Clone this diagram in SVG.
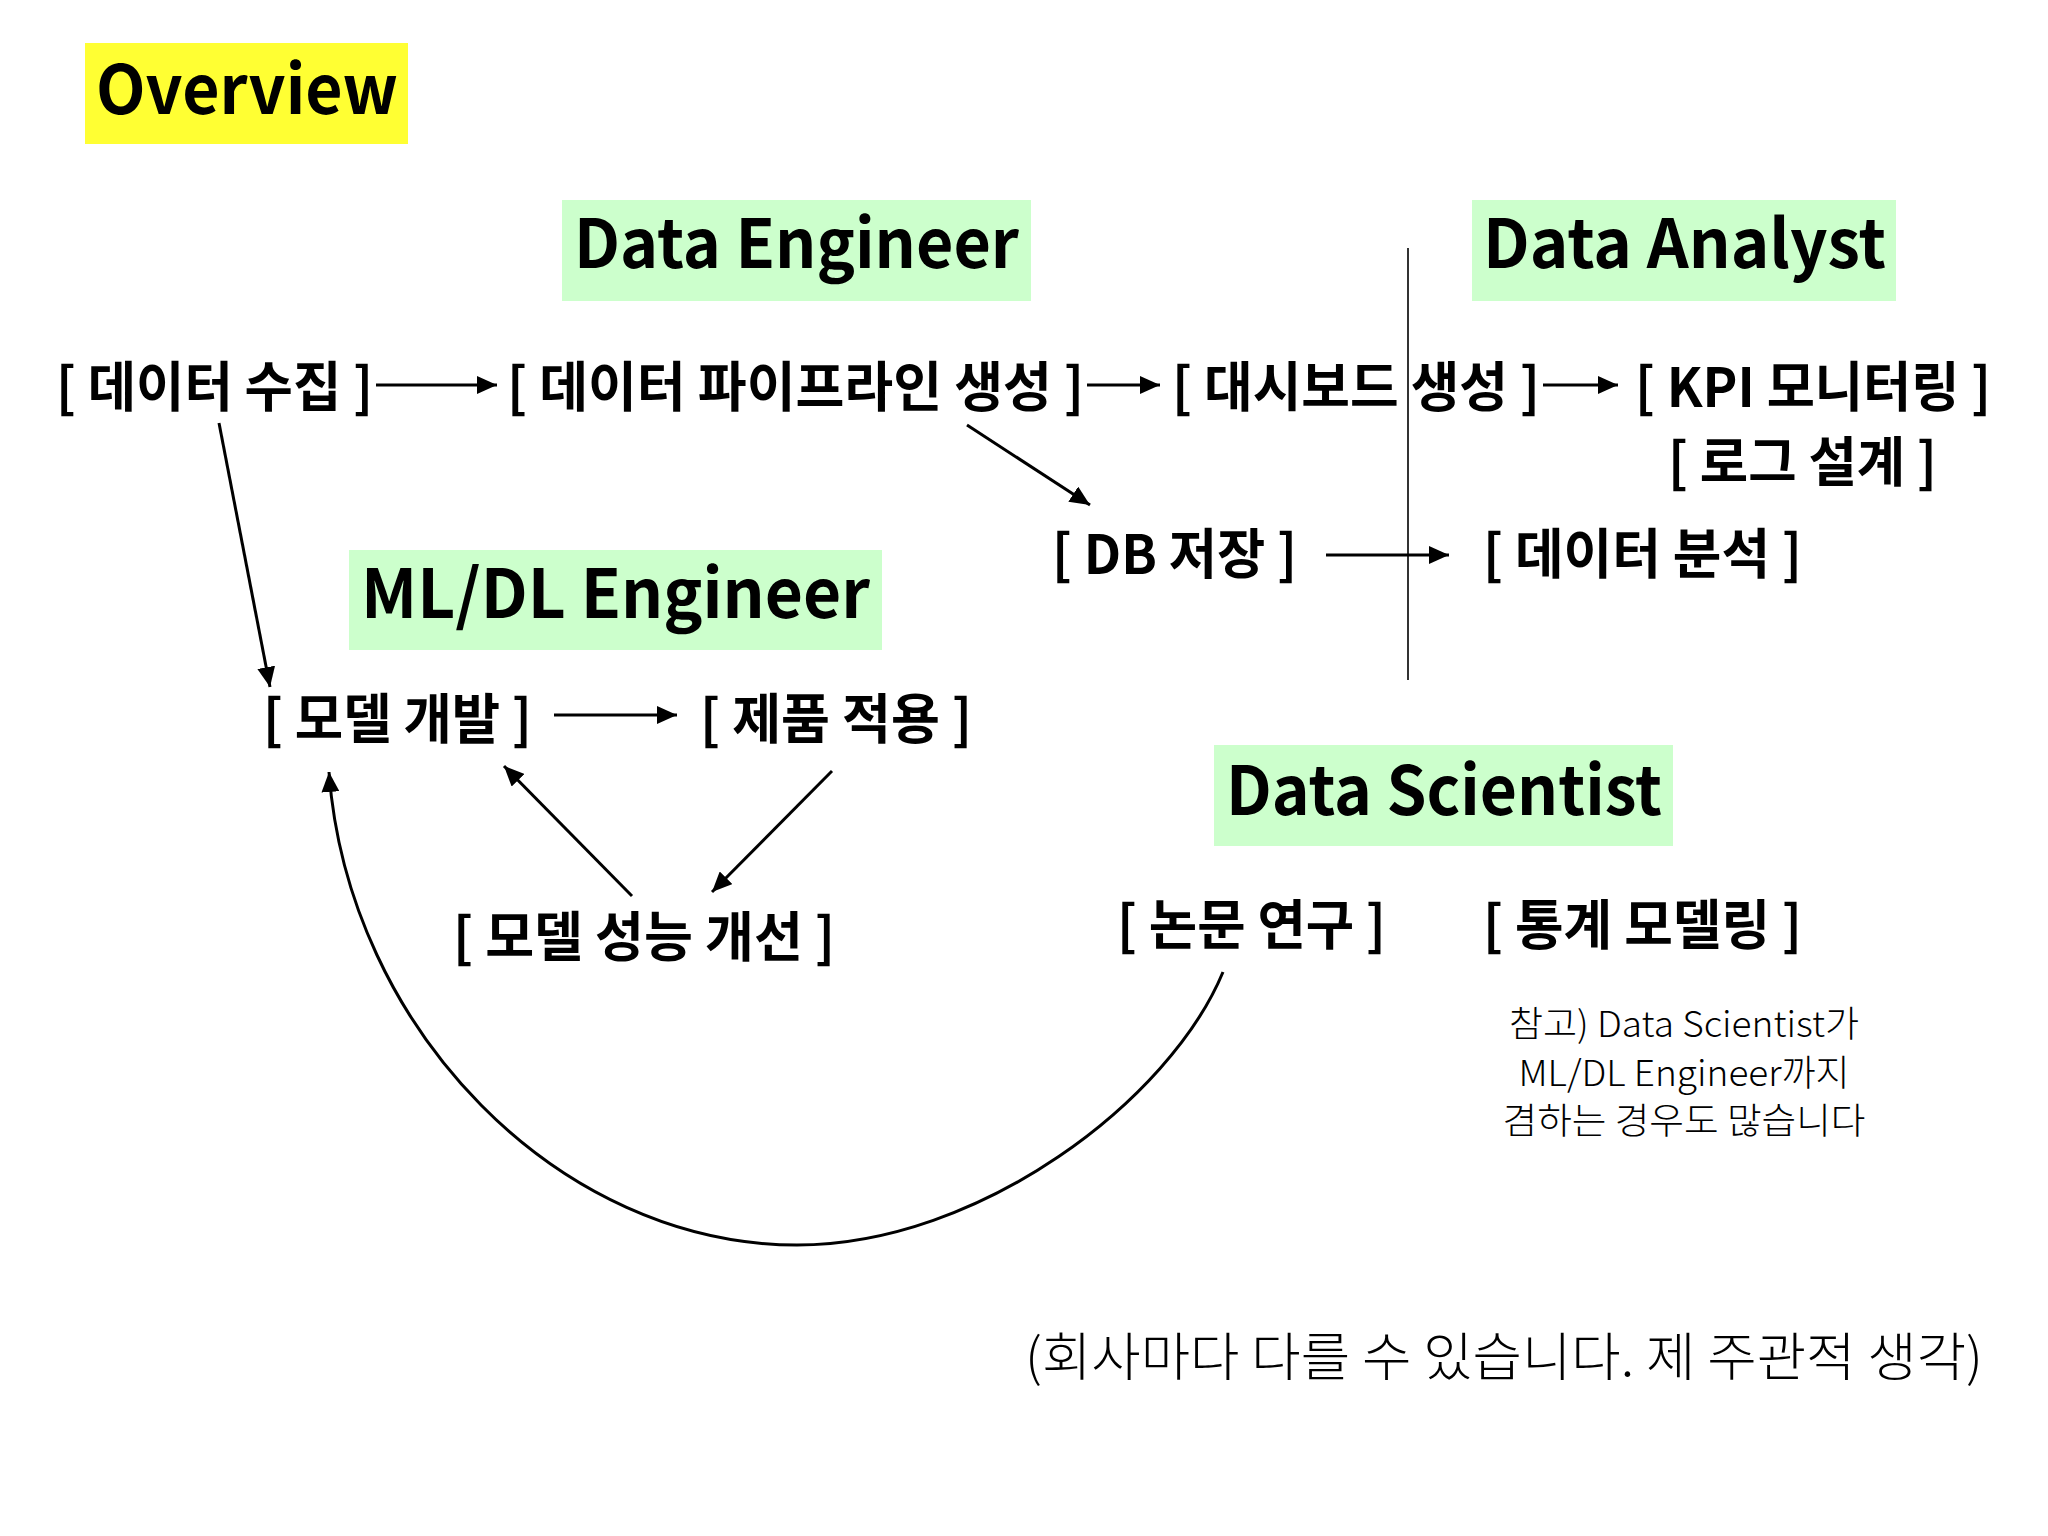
<svg xmlns="http://www.w3.org/2000/svg" width="2048" height="1536" viewBox="0 0 2048 1536">
<style>
.t{font-family:"Noto Sans CJK KR","Noto Sans",sans-serif;fill:#000}
.title{font-size:67px;font-weight:700}
.lbl{font-size:54px;font-weight:700}
.note{font-size:36px;font-weight:300}
.foot{font-size:52px;font-weight:300}
.ln{stroke:#000;stroke-width:3;fill:none}
</style>
<defs>
<marker id="ah" viewBox="0 0 20 18" refX="20" refY="9" markerWidth="20" markerHeight="18" markerUnits="userSpaceOnUse" orient="auto">
<path d="M0,0 L20,9 L0,18 Z" fill="#000"/>
</marker>
</defs>
<rect width="2048" height="1536" fill="#fff"/>

<g id="overview">
<rect x="85" y="43" width="323" height="101" fill="#ffff33"/>
<text class="t title" x="96" y="114" textLength="302" lengthAdjust="spacingAndGlyphs">Overview</text>
</g>
<g id="data-engineer">
<rect x="562" y="200" width="469" height="101" fill="#ccffcc"/>
<text class="t title" x="574" y="268" textLength="445" lengthAdjust="spacingAndGlyphs">Data Engineer</text>
</g>
<g id="data-analyst">
<rect x="1472" y="200" width="424" height="101" fill="#ccffcc"/>
<text class="t title" x="1483" y="268" textLength="403" lengthAdjust="spacingAndGlyphs">Data Analyst</text>
</g>
<g id="mldl-engineer">
<rect x="349" y="550" width="533" height="100" fill="#ccffcc"/>
<text class="t title" x="361" y="618" textLength="509" lengthAdjust="spacingAndGlyphs">ML/DL Engineer</text>
</g>
<g id="data-scientist">
<rect x="1214" y="745" width="459" height="101" fill="#ccffcc"/>
<text class="t title" x="1226" y="815" textLength="436" lengthAdjust="spacingAndGlyphs">Data Scientist</text>
</g>

<g id="divider">
<line x1="1408" y1="248" x2="1408" y2="680" stroke="#333" stroke-width="2"/>
</g>

<g id="n-collect"><text class="t lbl" x="56" y="407" textLength="317" lengthAdjust="spacingAndGlyphs">[ 데이터 수집 ]</text></g>
<g id="n-pipeline"><text class="t lbl" x="507" y="407" textLength="577" lengthAdjust="spacingAndGlyphs">[ 데이터 파이프라인 생성 ]</text></g>
<g id="n-dashboard"><text class="t lbl" x="1172" y="407" textLength="368" lengthAdjust="spacingAndGlyphs">[ 대시보드 생성 ]</text></g>
<g id="n-kpi"><text class="t lbl" x="1635" y="407" textLength="356" lengthAdjust="spacingAndGlyphs">[ KPI 모니터링 ]</text></g>
<g id="n-log"><text class="t lbl" x="1668" y="482" textLength="269" lengthAdjust="spacingAndGlyphs">[ 로그 설계 ]</text></g>
<g id="n-db"><text class="t lbl" x="1052" y="574" textLength="245" lengthAdjust="spacingAndGlyphs">[ DB 저장 ]</text></g>
<g id="n-analysis"><text class="t lbl" x="1483" y="574" textLength="319" lengthAdjust="spacingAndGlyphs">[ 데이터 분석 ]</text></g>
<g id="n-model"><text class="t lbl" x="263" y="739" textLength="269" lengthAdjust="spacingAndGlyphs">[ 모델 개발 ]</text></g>
<g id="n-product"><text class="t lbl" x="700" y="739" textLength="272" lengthAdjust="spacingAndGlyphs">[ 제품 적용 ]</text></g>
<g id="n-improve"><text class="t lbl" x="453" y="957" textLength="382" lengthAdjust="spacingAndGlyphs">[ 모델 성능 개선 ]</text></g>
<g id="n-paper"><text class="t lbl" x="1117" y="945" textLength="269" lengthAdjust="spacingAndGlyphs">[ 논문 연구 ]</text></g>
<g id="n-stat"><text class="t lbl" x="1483" y="945" textLength="319" lengthAdjust="spacingAndGlyphs">[ 통계 모델링 ]</text></g>

<g id="note">
<text class="t note" x="1684" y="1037" text-anchor="middle" textLength="350" lengthAdjust="spacingAndGlyphs">참고) Data Scientist가</text>
<text class="t note" x="1684" y="1086" text-anchor="middle" textLength="331" lengthAdjust="spacingAndGlyphs">ML/DL Engineer까지</text>
<text class="t note" x="1684" y="1134" text-anchor="middle" textLength="363" lengthAdjust="spacingAndGlyphs">겸하는 경우도 많습니다</text>
</g>
<g id="footer">
<text class="t foot" x="1025" y="1376" textLength="958" lengthAdjust="spacingAndGlyphs">(회사마다 다를 수 있습니다. 제 주관적 생각)</text>
</g>

<g id="connectors">
<line class="ln" x1="376" y1="385" x2="497" y2="385" marker-end="url(#ah)"/>
<line class="ln" x1="1087" y1="385" x2="1160" y2="385" marker-end="url(#ah)"/>
<line class="ln" x1="1543" y1="385" x2="1618" y2="385" marker-end="url(#ah)"/>
<line class="ln" x1="967" y1="425" x2="1090" y2="505" marker-end="url(#ah)"/>
<line class="ln" x1="1326" y1="555" x2="1449" y2="555" marker-end="url(#ah)"/>
<line class="ln" x1="219" y1="423" x2="270" y2="687" marker-end="url(#ah)"/>
<line class="ln" x1="554" y1="715" x2="677" y2="715" marker-end="url(#ah)"/>
<line class="ln" x1="832" y1="771" x2="712" y2="892" marker-end="url(#ah)"/>
<line class="ln" x1="632" y1="896" x2="504" y2="766" marker-end="url(#ah)"/>
<path class="ln" d="M1223,972 C1170,1100 980,1245 797,1245 C560,1245 348,1030 329,772" stroke-width="3.5" marker-end="url(#ah)"/>
</g>
</svg>
